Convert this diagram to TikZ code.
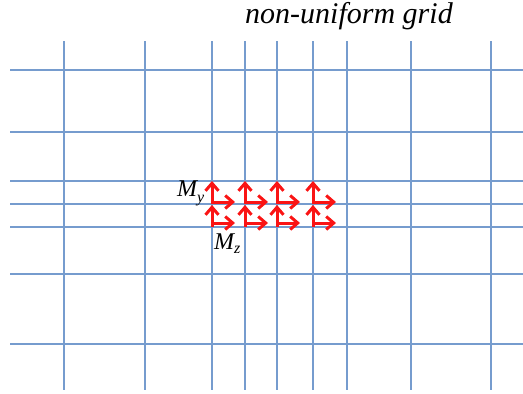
\documentclass[tikz,border=0pt]{standalone}
\usepackage{fontspec}
\setmainfont{Liberation Serif}
\usetikzlibrary{arrows.meta}
\definecolor{gridblue}{RGB}{118,156,206}
\definecolor{arrred}{RGB}{250,20,20}
\tikzset{
  gridline/.style={draw=gridblue, line width=1.8pt},
  vecarrow/.style={draw=arrred, line width=3pt, -{Straight Barb[length=7.5pt,width=13pt,line width=3pt]}},
  lab/.style={inner sep=0pt, font=\fontsize{24}{24}\selectfont\itshape},
}
\begin{document}
\begin{tikzpicture}[x=1pt,y=-1pt]
\useasboundingbox (0,0) rectangle (523,394);
% vertical grid lines
\foreach \x in {64,145,212,245,277,313,347,411,491}
  \draw[gridline] (\x,41) -- (\x,390);
% horizontal grid lines
\foreach \y in {70,132,181,204,227,274,344}
  \draw[gridline] (10,\y) -- (523,\y);
% moment arrows
\foreach \x [count=\i] in {212,245,277,313} {
  \coordinate (u\i) at (\x,204);
  \coordinate (l\i) at (\x,227);
  \draw[vecarrow] (u\i) -- ++(0,-23);
  \draw[vecarrow] ([yshift=2pt]u\i) -- ++(23,0);
  \draw[vecarrow] (l\i) -- ++(0,-22);
  \draw[vecarrow] ([yshift=4pt]l\i) -- ++(23,0);
}
% labels
\node[lab, anchor=base west] (my) at (177,196) {M\raisebox{-0.28em}{\fontsize{16}{16}\selectfont y}};
\node[lab, anchor=base west] (mz) at (214,249) {M\raisebox{-0.2em}{\fontsize{16}{16}\selectfont z}};
\node[anchor=base, inner sep=0pt, font=\fontsize{30}{30}\selectfont\itshape] (title) at (349,23) {non-uniform grid};
\end{tikzpicture}
\end{document}
